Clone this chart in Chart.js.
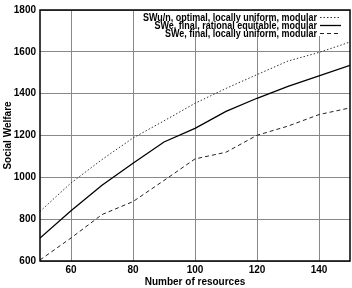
<!DOCTYPE html>
<html lang="en">
<head>
    <meta charset="UTF-8">
    <title>Social Welfare vs resources</title>
    <script src="https://cdn.jsdelivr.net/npm/chart.js"></script>
    <style>
        body { margin: 0; background: #fff; }
        #wrap { width: 352px; height: 288px; }
    </style>
</head>
<body>
    <div id="wrap"><canvas id="chart" width="352" height="288"></canvas></div>
    <script>
        // values
        const resources = [50, 60, 70, 80, 90, 100, 110, 120, 130, 140, 150];
        const swOptimal = [837, 973, 1085, 1188, 1270, 1354, 1425, 1491, 1556, 1597, 1647];
        const swRational = [710, 840, 962, 1067, 1169, 1234, 1315, 1378, 1435, 1485, 1535];
        const swLocal = [605, 710, 822, 884, 985, 1088, 1120, 1201, 1245, 1300, 1332];
        const seriesNames = [
            'SWu/n, optimal, locally uniform, modular',
            'SWe, final, rational equitable, modular',
            'SWe, final, locally uniform, modular'
        ];
        const xTicks = [60, 80, 100, 120, 140];
        const yTicks = [600, 800, 1000, 1200, 1400, 1600, 1800];

        const font = 'Liberation Sans, Arial, sans-serif';

        // squeeze a label horizontally so it matches the narrow gnuplot font
        function squeezedText(c, text, x, y, sx) {
            c.save();
            c.translate(x, y);
            c.scale(sx, 1);
            c.fillText(text, 0, 0);
            c.restore();
        }

        // gnuplot-style key: right aligned text, sample line on the right
        const keyPlugin = {
            id: 'key',
            afterDatasetsDraw(chart) {
                const c = chart.ctx, area = chart.chartArea;
                c.save();
                c.fillStyle = '#fff';
                c.fillRect(area.left + 100, area.top + 1, area.right - area.left - 102, 25);
                c.font = 'bold 11px ' + font;
                c.textAlign = 'right';
                c.textBaseline = 'middle';
                c.fillStyle = '#000';
                const sx = 174 / c.measureText(chart.data.datasets[0].label).width;
                chart.data.datasets.forEach((ds, i) => {
                    const y = area.top + 7.5 + i * 8;
                    squeezedText(c, ds.label, area.right - 33, y, sx);
                    c.beginPath();
                    c.strokeStyle = ds.borderColor;
                    c.lineWidth = ds.borderWidth;
                    c.setLineDash(ds.borderDash || []);
                    c.moveTo(area.right - 30, y);
                    c.lineTo(area.right - 9, y);
                    c.stroke();
                });
                c.restore();
            }
        };

        // black frame on top of everything
        const framePlugin = {
            id: 'frame',
            afterDraw(chart) {
                const c = chart.ctx, a = chart.chartArea;
                c.save();
                c.strokeStyle = '#000';
                c.lineWidth = 1.5;
                c.strokeRect(a.left, a.top, a.right - a.left, a.bottom - a.top);
                c.restore();
            }
        };

        const tickFont = { family: font, size: 10, weight: 'bold' };

        new Chart(document.getElementById('chart'), {
            type: 'line',
            data: {
                datasets: [
                    { label: seriesNames[0], data: swOptimal, borderColor: '#333', borderWidth: 1, borderDash: [1.5, 2] },
                    { label: seriesNames[1], data: swRational, borderColor: '#000', borderWidth: 1.3 },
                    { label: seriesNames[2], data: swLocal, borderColor: '#222', borderWidth: 1, borderDash: [4, 3] }
                ].map(d => Object.assign(d, {
                    data: d.data.map((v, i) => ({ x: resources[i], y: v })),
                    pointRadius: 0, tension: 0, fill: false
                }))
            },
            options: {
                responsive: false,
                animation: false,
                layout: { padding: { top: 7, right: 2, left: 2, bottom: 0 } },
                plugins: { legend: { display: false }, tooltip: { enabled: false } },
                scales: {
                    x: {
                        type: 'linear', min: 50, max: 150,
                        afterBuildTicks: s => { s.ticks = xTicks.map(v => ({ value: v })); },
                        afterFit: s => { s.height = 27; },
                        grid: { color: '#888', borderDash: [2, 2], drawTicks: false },
                        border: { display: false },
                        ticks: { color: '#000', padding: 3, font: tickFont, maxRotation: 0, callback: v => String(v) },
                        title: { display: true, text: 'Number of resources', color: '#000', padding: { top: 0, bottom: 0 }, font: tickFont }
                    },
                    y: {
                        min: 600, max: 1800,
                        afterBuildTicks: s => { s.ticks = yTicks.map(v => ({ value: v })); },
                        afterFit: s => { s.width = 38; },
                        grid: { color: '#888', borderDash: [2, 2], drawTicks: false },
                        border: { display: false },
                        ticks: { color: '#000', padding: 4, font: tickFont, callback: v => String(v) },
                        title: { display: true, text: 'Social Welfare', color: '#000', padding: { top: 0, bottom: 0 }, font: tickFont }
                    }
                }
            },
            plugins: [keyPlugin, framePlugin]
        });
    </script>
</body>
</html>
